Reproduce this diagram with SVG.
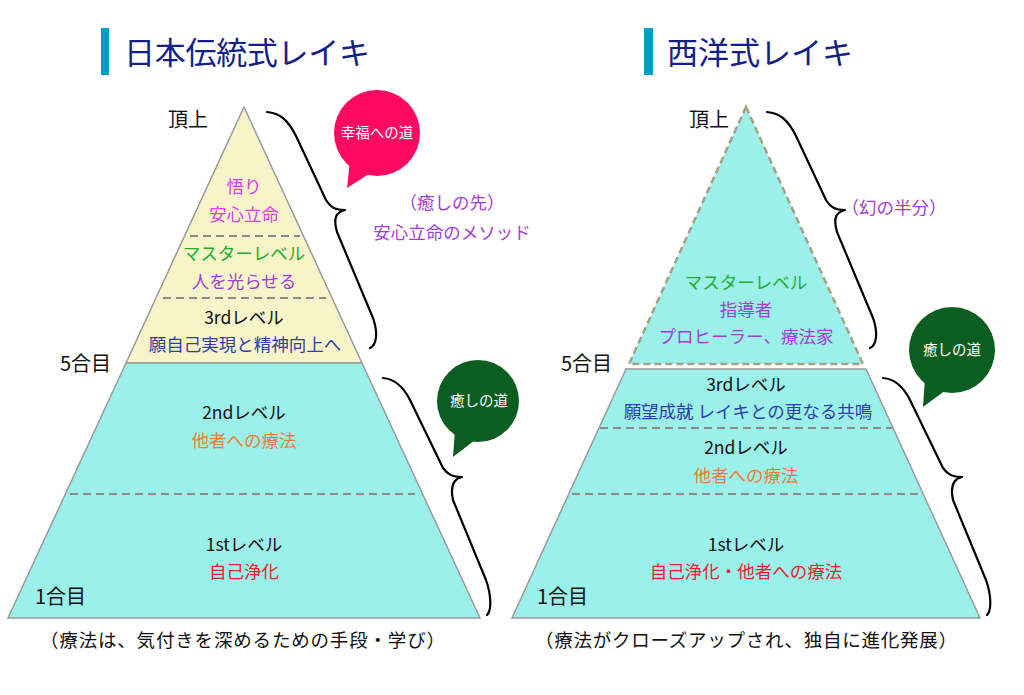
<svg xmlns="http://www.w3.org/2000/svg" width="1024" height="695" viewBox="0 0 1024 695">
<style>
text{font-family:"Noto Sans CJK JP","Noto Sans",sans-serif;}
.t{font-size:17.5px;text-anchor:middle;}
.lbl{font-size:20px;fill:#111;}
.title{font-size:31px;fill:#13208a;}
.bar{fill:#00a0c0;}
.cap{font-size:18.5px;fill:#111;}
.bub{font-size:14.5px;fill:#fff;text-anchor:middle;}
.dash{stroke:#8a8a8a;stroke-width:2;stroke-dasharray:8 5;fill:none;}
.brace{fill:none;stroke:#000;stroke-width:2.2;stroke-linecap:round;stroke-linejoin:round;}
.k{fill:#111}.mag{fill:#e03ee8}.grn{fill:#24b02e}.pur{fill:#a03ed6}.blu{fill:#2e3ea8}.org{fill:#f47a32}.red{fill:#ea1e2c}
</style>
<rect width="1024" height="695" fill="#fff"/>

<g id="title-left">
<rect class="bar" x="101" y="28" width="8" height="47"/>
<text class="title" x="124" y="64" textLength="246">日本伝統式レイキ</text>
</g>
<g id="title-right">
<rect class="bar" x="644" y="28" width="9" height="47"/>
<text class="title" x="667" y="64" textLength="186">西洋式レイキ</text>
</g>

<g id="left-upper">
<polygon points="244,107 362,363 126,363" fill="#f7f4c9" stroke="#9a9a9a" stroke-width="1.5"/>
<line class="dash" x1="190" y1="236" x2="300" y2="236"/>
<line class="dash" x1="163" y1="298" x2="326" y2="298"/>
<text class="t mag" x="244" y="193">悟り</text>
<text class="t mag" x="244" y="221">安心立命</text>
<text class="t grn" x="244" y="260">マスターレベル</text>
<text class="t pur" x="244" y="288">人を光らせる</text>
<text class="t k" x="244" y="324">3rdレベル</text>
<text class="t blu" x="245" y="351">願自己実現と精神向上へ</text>
</g>
<g id="left-lower">
<polygon points="126,363 362,363 480,618 8,618" fill="#9cf0ea" stroke="#9a9a9a" stroke-width="1.5"/>
<line class="dash" x1="70" y1="494" x2="415" y2="494"/>
<text class="t k" x="244" y="419">2ndレベル</text>
<text class="t org" x="244" y="447">他者への療法</text>
<text class="t k" x="244" y="551">1stレベル</text>
<text class="t red" x="244" y="578">自己浄化</text>
</g>
<g id="left-labels">
<text class="lbl" x="168" y="127">頂上</text>
<text class="lbl" x="60" y="371">5合目</text>
<text class="lbl" x="35" y="604">1合目</text>
</g>

<g id="right-upper">
<polygon points="746,107 863,364 629,364" fill="#9cf0ea" stroke="#a3a282" stroke-width="2.5" stroke-dasharray="7 4"/>
<text class="t grn" x="746" y="289">マスターレベル</text>
<text class="t pur" x="746" y="316">指導者</text>
<text class="t pur" x="746" y="343">プロヒーラー、療法家</text>
</g>
<g id="right-lower">
<polygon points="626,369 866,369 980,618 512,618" fill="#9cf0ea" stroke="#9a9a9a" stroke-width="1.5"/>
<line class="dash" x1="600" y1="428" x2="893" y2="428"/>
<line class="dash" x1="572" y1="494" x2="918" y2="494"/>
<text class="t k" x="746" y="391">3rdレベル</text>
<text class="t blu" x="748" y="418">願望成就 レイキとの更なる共鳴</text>
<text class="t k" x="746" y="454">2ndレベル</text>
<text class="t org" x="746" y="482">他者への療法</text>
<text class="t k" x="746" y="551">1stレベル</text>
<text class="t red" x="746" y="578">自己浄化・他者への療法</text>
</g>
<g id="right-labels">
<text class="lbl" x="689" y="127">頂上</text>
<text class="lbl" x="561" y="371">5合目</text>
<text class="lbl" x="537" y="604">1合目</text>
</g>

<g id="bubble-happiness">
<circle cx="377" cy="133" r="43" fill="#ff0a62"/>
<polygon points="350,160 372,172 347,188" fill="#ff0a62"/>
<text class="bub" x="377" y="138">幸福への道</text>
</g>
<g id="bubble-healing-left">
<circle cx="478" cy="401" r="41" fill="#0b5e20"/>
<polygon points="455,430 475,440 453,457" fill="#0b5e20"/>
<text class="bub" x="479" y="406">癒しの道</text>
</g>
<g id="bubble-healing-right">
<circle cx="952" cy="350" r="43" fill="#0b5e20"/>
<polygon points="925,378 946,390 923,407" fill="#0b5e20"/>
<text class="bub" x="952" y="355">癒しの道</text>
</g>

<g id="notes">
<text class="t pur" x="452" y="209">（癒しの先）</text>
<text class="t pur" x="452" y="239">安心立命のメソッド</text>
<text class="t pur" x="894" y="214">（幻の半分）</text>
<text class="cap" x="40" y="647" textLength="405">（療法は、気付きを深めるための手段・学び）</text>
<text class="cap" x="535" y="647" textLength="422">（療法がクローズアップされ、独自に進化発展）</text>
</g>

<g id="connectors">
<path class="brace" d="M267,112 C280,113 288,120 296,136 L326,200 C331,208 336,210 345,210 C336,212 333,218 337,232 L373,318 C378,332 377,345 370,348"/>
<path class="brace" d="M383,378 C396,379 404,388 410,400 L443,468 C448,475 453,477 462,477 C453,479 450,486 453,500 L486,580 C491,594 492,610 487,615"/>
<path class="brace" d="M767,112 C780,113 788,120 796,136 L826,200 C831,208 836,210 845,210 C836,212 833,218 837,232 L873,318 C878,332 877,345 870,348"/>
<path class="brace" d="M883,378 C896,379 904,388 910,400 L943,468 C948,475 953,477 962,477 C953,479 950,486 953,500 L986,580 C991,594 992,610 987,615"/>
</g>
</svg>
